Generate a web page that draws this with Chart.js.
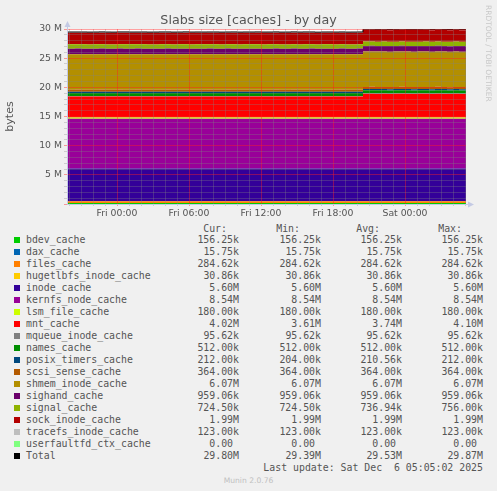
<!DOCTYPE html>
<html>
<head>
<meta charset="utf-8">
<script src="https://cdn.jsdelivr.net/npm/chart.js@4.4.0/dist/chart.umd.min.js"></script>
<style>
html, body { margin: 0; padding: 0; background: #f0f0f0; }
#wrap { position: relative; width: 497px; height: 491px; overflow: hidden; font-family: "DejaVu Sans", sans-serif; }
#chart { position: absolute; left: 0; top: 0; }
#title { position: absolute; left: 0; top: 12px; width: 497px; text-align: center; font-size: 12.7px; line-height: 15px; color: #555; }
#rrd { position: absolute; left: 483px; top: 5px; writing-mode: vertical-rl; font-size: 7.5px; line-height: 10px; color: #c8c8c8; white-space: nowrap; }
.mono { position: absolute; font-family: "DejaVu Sans Mono", monospace; font-size: 9.87px; line-height: 12px; color: #555; white-space: pre; }
.sw { position: absolute; left: 14px; width: 6px; height: 6px; }
#munin { position: absolute; left: 0; top: 475.5px; width: 497px; text-align: center; font-size: 7.6px; line-height: 9px; color: #c0c0c0; }
</style>
</head>
<body>
<div id="wrap">
  <canvas id="chart" width="497" height="220"></canvas>
  <div id="title">Slabs size [caches] - by day</div>
  <div id="rrd">RRDTOOL / TOBI OETIKER</div>
  <div id="legend"></div>
  <div id="munin">Munin 2.0.76</div>
</div>
<script>
// 時間軸 (小時, 相對於 Fri 00:00)
const xMin = -4.1667;   // Thu 19:50
const xMax = 29.0833;   // Sat 05:05
const tickHours = [0, 6, 12, 18, 24];
const tickLabels = ['Fri 00:00', 'Fri 06:00', 'Fri 12:00', 'Fri 18:00', 'Sat 00:00'];

// 每 30 分鐘一筆
const times = Array.from({ length: 69 }, (_, i) => -4.5 + i * 0.5);

const seriesNames = [
    'bdev_cache', 'dax_cache', 'files_cache', 'hugetlbfs_inode_cache', 'inode_cache',
    'kernfs_node_cache', 'lsm_file_cache', 'mnt_cache', 'mqueue_inode_cache', 'names_cache',
    'posix_timers_cache', 'scsi_sense_cache', 'shmem_inode_cache', 'sighand_cache', 'signal_cache',
    'sock_inode_cache', 'tracefs_inode_cache', 'userfaultfd_ctx_cache'
];

const seriesColors = [
    '#00CC00', '#0066B3', '#FF8000', '#FFCC00', '#330099',
    '#990099', '#CCFF00', '#FF0000', '#808080', '#008F00',
    '#00487D', '#B35A00', '#B38F00', '#6B006B', '#8FB300',
    '#B30000', '#BEBEBE', '#80FF80'
];

// 固定值 (bytes)，null = 有變動
const steadyBytes = [
    156250, 15750, 284620, 30860, 5600000,
    8540000, 180000, null, 95620, 512000,
    null, 364000, 6070000, 959060, null,
    1990000, 123000, 0
];

// mnt_cache (M)
const mntM = [
    3.61, 3.61, 3.62, 3.61, 3.61, 3.61, 3.62, 3.61, 3.61, 3.63,
    3.61, 3.61, 3.62, 3.61, 3.61, 3.61, 3.61, 3.62, 3.61, 3.61,
    3.62, 3.61, 3.61, 3.61, 3.63, 3.61, 3.61, 3.62, 3.61, 3.61,
    3.61, 3.62, 3.61, 3.61, 3.61, 3.62, 3.61, 3.61, 3.63, 3.61,
    3.61, 3.62, 3.61, 3.61, 3.61, 3.61, 3.62, 3.61, 3.61, 3.62,
    4.08, 4.10, 4.07, 4.09, 4.06, 4.08, 4.10, 4.07, 4.05, 4.09,
    4.08, 4.06, 4.10, 4.07, 4.05, 4.08, 4.06, 4.04, 4.02
];

// posix_timers_cache (k)
const posixK = [
    212, 212, 212, 204, 212, 212, 212, 212, 212, 204,
    212, 212, 212, 212, 204, 212, 212, 212, 212, 212,
    204, 212, 212, 212, 212, 212, 204, 212, 212, 212,
    212, 204, 212, 212, 212, 212, 212, 204, 212, 212,
    212, 212, 204, 212, 212, 212, 212, 212, 204, 212,
    212, 212, 212, 204, 212, 212, 212, 212, 212, 204,
    212, 212, 212, 212, 204, 212, 212, 212, 212
];

// signal_cache (k)
const signalK = [
    736, 740, 732, 748, 728, 736, 744, 732, 724.5, 740,
    752, 736, 728, 744, 736, 732, 748, 740, 728, 736,
    756, 732, 740, 736, 724.5, 744, 736, 732, 748, 728,
    740, 736, 752, 732, 736, 744, 728, 740, 736, 732,
    748, 736, 724.5, 740, 744, 732, 736, 728, 740, 736,
    744, 732, 740, 748, 736, 728, 740, 736, 756, 732,
    744, 736, 740, 728, 736, 748, 732, 740, 724.5
];

// 圖例數值
const curVals = ['156.25k', '15.75k', '284.62k', '30.86k', '5.60M', '8.54M', '180.00k', '4.02M', '95.62k', '512.00k', '212.00k', '364.00k', '6.07M', '959.06k', '724.50k', '1.99M', '123.00k', '0.00 ', '29.80M'];
const minVals = ['156.25k', '15.75k', '284.62k', '30.86k', '5.60M', '8.54M', '180.00k', '3.61M', '95.62k', '512.00k', '204.00k', '364.00k', '6.07M', '959.06k', '724.50k', '1.99M', '123.00k', '0.00 ', '29.39M'];
const avgVals = ['156.25k', '15.75k', '284.62k', '30.86k', '5.60M', '8.54M', '180.00k', '3.74M', '95.62k', '512.00k', '210.56k', '364.00k', '6.07M', '959.06k', '736.94k', '1.99M', '123.00k', '0.00 ', '29.53M'];
const maxVals = ['156.25k', '15.75k', '284.62k', '30.86k', '5.60M', '8.54M', '180.00k', '4.10M', '95.62k', '512.00k', '212.00k', '364.00k', '6.07M', '959.06k', '756.00k', '1.99M', '123.00k', '0.00 ', '29.87M'];
const lastUpdate = 'Last update: Sat Dec  6 05:05:02 2025';

// 取得每個序列的值
function seriesValues(idx) {
    const name = seriesNames[idx];
    if (name === 'mnt_cache') return mntM.map(v => v * 1e6);
    if (name === 'posix_timers_cache') return posixK.map(v => v * 1e3);
    if (name === 'signal_cache') return signalK.map(v => v * 1e3);
    return times.map(() => steadyBytes[idx]);
}

const allValues = seriesNames.map((_, i) => seriesValues(i));
const totalValues = times.map((_, t) => allValues.reduce((s, arr) => s + arr[t], 0));

const datasets = seriesNames.map((name, i) => ({
    label: name,
    data: times.map((x, t) => ({ x: x, y: allValues[i][t] })),
    backgroundColor: seriesColors[i],
    borderColor: 'rgba(0,0,0,0)',
    borderWidth: 0,
    fill: i === 0 ? 'origin' : '-1',
    stepped: 'before',
    stack: 'slabs'
}));

datasets.push({
    label: 'Total',
    data: times.map((x, t) => ({ x: x, y: totalValues[t] })),
    borderColor: '#000000',
    borderWidth: 1,
    fill: false,
    stepped: 'before',
    stack: 'total',
    order: -1
});

const majorGrid = 'rgba(255,30,30,0.42)';
const minorGrid = 'rgba(130,130,130,0.32)';
const axisColor = '#c4cae4';

// 圖區背景與箭頭
const framePlugin = {
    id: 'frame',
    beforeDraw(chart) {
        const a = chart.chartArea;
        const c = chart.ctx;
        c.save();
        c.fillStyle = '#ffffff';
        c.fillRect(a.left, a.top, a.right - a.left, a.bottom - a.top);
        c.restore();
    },
    afterDraw(chart) {
        const a = chart.chartArea;
        const c = chart.ctx;
        c.save();
        c.strokeStyle = axisColor;
        c.fillStyle = axisColor;
        c.lineWidth = 1;
        c.beginPath();
        c.moveTo(a.left + 0.5, a.top);
        c.lineTo(a.left + 0.5, a.top - 3);
        c.moveTo(a.right, a.bottom + 0.5);
        c.lineTo(a.right + 3, a.bottom + 0.5);
        c.stroke();
        c.beginPath();
        c.moveTo(a.left - 2.5, a.top - 2);
        c.lineTo(a.left + 3.5, a.top - 2);
        c.lineTo(a.left + 0.5, a.top - 8);
        c.closePath();
        c.fill();
        c.beginPath();
        c.moveTo(a.right + 2, a.bottom - 2.5);
        c.lineTo(a.right + 2, a.bottom + 3.5);
        c.lineTo(a.right + 8, a.bottom + 0.5);
        c.closePath();
        c.fill();
        c.restore();
    }
};

const tickFont = { family: 'DejaVu Sans', size: 9.3 };

new Chart(document.getElementById('chart').getContext('2d'), {
    type: 'line',
    data: { datasets: datasets },
    plugins: [framePlugin],
    options: {
        responsive: false,
        animation: false,
        devicePixelRatio: 1,
        layout: { padding: { top: 29, right: 31, left: 0, bottom: 0 } },
        plugins: {
            legend: { display: false },
            tooltip: { enabled: false },
            title: { display: false }
        },
        elements: { point: { radius: 0 }, line: { tension: 0 } },
        scales: {
            x: {
                type: 'linear',
                min: xMin,
                max: xMax,
                afterBuildTicks: s => {
                    const list = [];
                    for (let h = Math.ceil(xMin); h <= Math.floor(xMax); h++) list.push({ value: h });
                    s.ticks = list;
                },
                afterFit: s => { s.height = 16; },
                ticks: {
                    autoSkip: false,
                    maxRotation: 0,
                    padding: 2,
                    color: '#555',
                    font: tickFont,
                    callback: v => {
                        const k = tickHours.indexOf(v);
                        return k >= 0 ? tickLabels[k] : '';
                    }
                },
                grid: {
                    z: 1,
                    color: c => (c.tick && c.tick.value % 6 === 0) ? majorGrid : minorGrid,
                    tickColor: c => (c.tick && c.tick.value % 6 === 0) ? majorGrid : minorGrid,
                    borderDash: [1, 2],
                    tickLength: 2
                },
                border: { z: 2, color: axisColor, width: 1 }
            },
            y: {
                stacked: true,
                min: 0,
                max: 30e6,
                afterBuildTicks: s => {
                    const list = [];
                    for (let v = 0; v <= 30; v++) list.push({ value: v * 1e6 });
                    s.ticks = list;
                },
                afterFit: s => { s.width = 67; },
                title: {
                    display: true,
                    text: 'bytes',
                    color: '#555',
                    font: { family: 'DejaVu Sans', size: 11 },
                    padding: { top: 4, bottom: 0 }
                },
                ticks: {
                    autoSkip: false,
                    padding: 2,
                    color: '#555',
                    font: tickFont,
                    callback: v => (v > 0 && v % 5e6 === 0) ? (v / 1e6) + ' M' : ''
                },
                grid: {
                    z: 1,
                    color: c => (c.tick && c.tick.value % 5e6 === 0) ? majorGrid : minorGrid,
                    tickColor: c => (c.tick && c.tick.value % 5e6 === 0) ? majorGrid : minorGrid,
                    borderDash: [1, 2],
                    tickLength: 3
                },
                border: { z: 2, color: axisColor, width: 1 }
            }
        }
    }
});

// 圖例表格
const legend = document.getElementById('legend');
const colRight = [239, 321, 402, 483];
const headRight = [227, 300, 380, 462];
const heads = ['Cur:', 'Min:', 'Avg:', 'Max:'];

function addText(text, top, left, right) {
    const el = document.createElement('div');
    el.className = 'mono';
    el.textContent = text;
    el.style.top = top + 'px';
    if (right !== undefined) {
        el.style.right = (497 - right) + 'px';
        el.style.textAlign = 'right';
    } else {
        el.style.left = left + 'px';
    }
    legend.appendChild(el);
}

heads.forEach((h, i) => addText(h, 222.5, undefined, headRight[i]));

const rowNames = seriesNames.concat(['Total']);
const rowColors = seriesColors.concat(['#000000']);

rowNames.forEach((name, i) => {
    const top = 233.5 + i * 12;
    const sw = document.createElement('div');
    sw.className = 'sw';
    sw.style.top = (top + 3.5) + 'px';
    sw.style.background = rowColors[i];
    legend.appendChild(sw);
    addText(name, top, 26);
    [curVals, minVals, avgVals, maxVals].forEach((col, k) => addText(col[i], top, undefined, colRight[k]));
});

addText(lastUpdate, 233.5 + 19 * 12, undefined, 483);
</script>
</body>
</html>
